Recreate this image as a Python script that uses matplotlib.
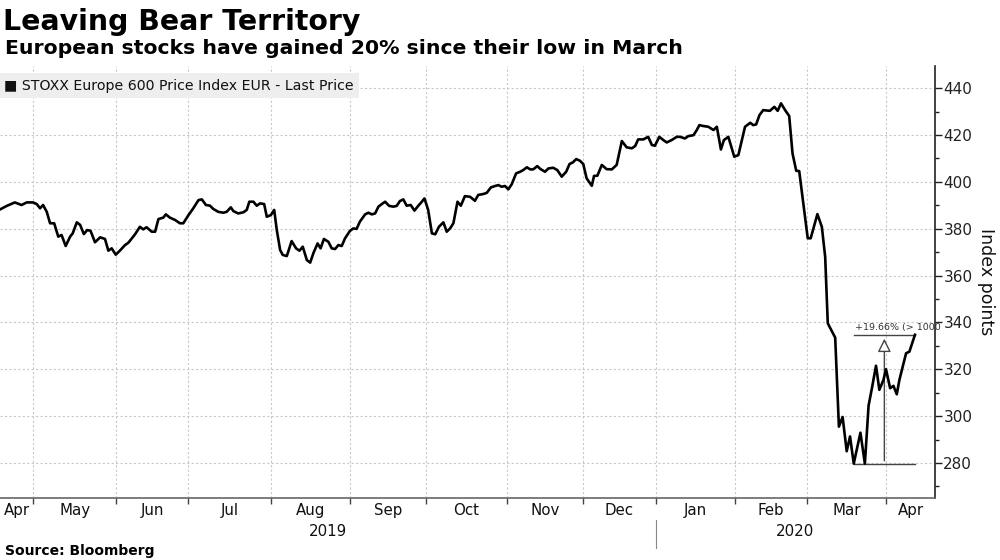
import matplotlib
matplotlib.use("Agg")
import matplotlib.pyplot as plt
import matplotlib.transforms as mtransforms
from matplotlib.ticker import MultipleLocator, FixedLocator, NullFormatter

# x is counted in trading days from the first point (mid April 2019)
day = [0.0, 1.8, 4.0, 5.8, 7.2, 8.9, 9.9, 10.8, 11.6, 12.6, 13.5, 14.6, 15.7, 16.6,
       17.7, 18.9, 19.6, 20.7, 21.6, 22.6, 23.5, 24.4, 25.6, 27.0, 28.3, 29.2, 30.1,
       31.2, 32.3, 33.7, 34.6, 36.4, 37.7, 38.6, 39.5, 40.9, 41.8, 42.7, 44.0, 44.7,
       45.8, 47.2, 48.5, 49.4, 50.8, 52.1, 53.5, 54.4, 55.5, 56.6, 57.5, 58.8, 60.2,
       61.1, 62.2, 62.9, 64.2, 65.6, 66.5, 67.2, 68.3, 69.2, 70.1, 71.2, 71.9, 73.0,
       73.9, 74.6, 75.5, 76.2, 77.3, 78.6, 79.8, 80.7, 81.6, 82.7, 83.6, 84.5, 85.6,
       86.4, 87.3, 88.5, 89.4, 90.3, 91.2, 92.1, 93.0, 94.3, 95.2, 96.1, 97.0, 98.4,
       99.3, 100.2, 101.1, 102.0, 102.9, 103.8, 104.9, 106.0, 106.9, 107.8, 108.7,
       109.6, 110.7, 111.7, 112.7, 113.7, 114.4, 115.4, 116.4, 117.3, 118.3, 119.5,
       120.4, 121.3, 122.2, 123.3, 124.2, 125.3, 126.7, 128.0, 128.9, 130.3, 131.2,
       132.3, 133.4, 134.3, 135.2, 136.1, 137.0, 137.9, 139.1, 140.2, 141.0, 142.0,
       142.9, 143.7, 144.8, 145.7, 146.9, 147.8, 149.1, 150.2, 151.4, 152.6, 153.5,
       154.4, 155.3, 156.3, 157.2, 158.1, 159.5, 160.1, 161.0, 162.2, 163.5, 164.9,
       166.2, 167.6, 168.9, 170.3, 171.2, 172.0, 173.4, 174.7, 175.7, 176.5, 177.7,
       178.8, 179.7, 181.0, 182.4, 183.3, 184.6, 185.5, 186.9, 187.8, 188.5, 189.6,
       190.9, 192.3, 193.2, 194.3, 195.1, 196.3, 197.9, 199.0, 200.8, 202.2, 203.0,
       203.8, 204.7, 205.7, 207.5, 208.7, 209.6, 210.5, 211.6, 212.7, 213.6, 214.6,
       215.4, 216.5, 217.7, 218.5, 220.3, 221.5, 222.4, 223.1, 225.1, 226.1, 227.1,
       228.2, 229.1, 230.1, 231.9, 233.1, 234.1, 235.0, 236.1, 237.0, 238.1, 238.8,
       239.9, 240.8, 241.7, 242.4, 243.3, 244.2, 245.1, 246.6]

price = [388.2, 389.7, 391.2, 390.1, 391.2, 391.2, 390.5, 388.7, 390.1, 387.2, 382.3,
         382.3, 376.6, 377.3, 372.6, 376.6, 378.0, 382.7, 381.6, 377.7, 379.4, 379.1,
         374.2, 376.3, 375.6, 370.6, 371.6, 368.9, 370.6, 373.0, 374.0, 377.6, 380.8,
         379.7, 380.6, 378.7, 378.7, 384.1, 384.7, 386.1, 384.7, 383.7, 382.3, 382.3,
         385.8, 388.7, 392.2, 392.5, 390.1, 389.8, 388.4, 387.2, 386.8, 387.2, 389.1,
         387.5, 386.5, 387.0, 388.0, 391.5, 391.5, 389.8, 390.8, 390.5, 385.1, 385.8,
         388.0, 379.4, 370.9, 368.8, 368.3, 374.7, 371.6, 370.6, 372.3, 366.6, 365.5,
         369.7, 373.7, 371.6, 375.6, 374.4, 371.6, 371.3, 373.0, 372.6, 375.9, 379.0,
         380.1, 379.9, 383.0, 386.1, 386.8, 386.1, 386.5, 389.4, 390.5, 391.5, 389.7,
         389.4, 389.7, 391.8, 392.5, 389.8, 390.1, 387.7, 389.7, 391.5, 392.9, 388.0,
         378.0, 377.6, 380.8, 382.7, 378.7, 380.1, 382.3, 391.5, 389.8, 393.9, 393.6,
         391.9, 394.4, 394.8, 395.3, 397.6, 398.2, 398.6, 397.9, 398.2, 396.8, 398.9,
         403.6, 404.3, 405.0, 406.2, 405.3, 405.3, 406.7, 405.4, 404.3, 405.7, 406.0,
         405.0, 402.2, 404.3, 407.6, 408.3, 409.7, 409.0, 407.6, 401.5, 398.3, 402.5,
         402.6, 407.2, 405.4, 405.3, 407.2, 417.4, 414.7, 414.3, 415.3, 418.1, 418.1,
         419.2, 415.7, 415.4, 419.2, 417.8, 416.8, 417.8, 419.2, 419.2, 418.5, 419.5,
         419.9, 422.1, 424.2, 423.8, 423.5, 422.1, 423.5, 413.8, 417.8, 419.2, 410.7,
         411.4, 423.5, 425.2, 424.2, 424.5, 428.5, 430.6, 430.3, 432.0, 430.3, 433.5,
         430.6, 428.1, 412.1, 404.7, 404.6, 390.8, 375.9, 375.9, 386.2, 380.8, 368.0,
         339.6, 333.5, 295.5, 299.6, 285.0, 291.3, 279.7, 292.9, 279.7, 304.5, 311.9,
         321.5, 311.2, 315.4, 320.0, 311.9, 312.9, 309.3, 315.4, 321.1, 326.8, 327.5,
         334.7]

month_labels = ["Apr", "May", "Jun", "Jul", "Aug", "Sep", "Oct", "Nov", "Dec",
                "Jan", "Feb", "Mar", "Apr"]
# trading-day position of the first day of each month, May 2019 .. Apr 2020
month_starts = [8.9, 31.3, 50.7, 73.0, 94.3, 114.8, 136.7, 157.1, 176.8, 198.1,
                217.5, 238.8]
years = ["2019", "2020"]

series_name = "STOXX Europe 600 Price Index EUR - Last Price"
xmax = 252.0
ymin, ymax = 265.1, 449.4

fig = plt.figure(figsize=(10, 5.6), dpi=100)
ax = fig.add_axes([0.0, 0.111, 0.935, 0.771])

ax.plot(day, price, color="black", lw=1.9, zorder=3)
ax.set_xlim(0, xmax)
ax.set_ylim(ymin, ymax)

# y axis on the right
ax.yaxis.tick_right()
ax.yaxis.set_label_position("right")
ax.yaxis.set_major_locator(MultipleLocator(20))
ax.yaxis.set_minor_locator(MultipleLocator(10))
ax.tick_params(axis="y", which="major", length=5, width=1, colors="#222222",
               labelsize=11, pad=1, direction="out")
ax.tick_params(axis="y", which="minor", length=3, width=1, colors="#222222")
ax.set_ylabel("Index points", rotation=270, fontsize=12.5, labelpad=16,
              color="#111111")

# x axis: ticks at month boundaries, labels centred inside each month
edges = [0.0] + month_starts + [xmax]
centers = [(a + b) / 2 for a, b in zip(edges[:-1], edges[1:])]
ax.xaxis.set_major_locator(FixedLocator(month_starts))
ax.xaxis.set_major_formatter(NullFormatter())
ax.xaxis.set_minor_locator(FixedLocator(centers))
ax.set_xticklabels(month_labels, minor=True)
ax.tick_params(axis="x", which="major", length=4, width=1, colors="#444444")
ax.tick_params(axis="x", which="minor", length=0, labelsize=10.8, pad=4,
               labelcolor="#111111")

ax.grid(True, which="major", color="#c8c8c8", ls=(0, (2, 2)), lw=0.8)
ax.set_axisbelow(True)

for side in ["top", "left"]:
    ax.spines[side].set_visible(False)
ax.spines["right"].set_color("#222222")
ax.spines["bottom"].set_color("#666666")
ax.spines["right"].set_linewidth(1.2)
ax.spines["bottom"].set_linewidth(1.2)

# year labels and divider under the month labels
trans = mtransforms.blended_transform_factory(ax.transData, ax.transAxes)
jan = month_starts[8]
ax.text(jan / 2, -0.079, years[0], transform=trans, ha="center", va="center",
        fontsize=10.8, color="#111111")
ax.text((jan + xmax) / 2, -0.079, years[1], transform=trans, ha="center",
        va="center", fontsize=10.8, color="#111111")
ax.plot([jan, jan], [-0.051, -0.116], transform=trans, color="#888888",
        lw=0.8, clip_on=False)

# low-to-last gain annotation
i_low = price.index(min(price))
x0, x1 = day[i_low], day[-1]
lo, hi = price[i_low], price[-1]
xm = (x0 + x1) / 2
gain = (hi / lo - 1) * 100
ax.plot([x0, x1], [lo, lo], color="#444444", lw=1, zorder=2)
ax.plot([x0, x1], [hi, hi], color="#444444", lw=1, zorder=2)
ax.annotate("", xy=(xm, hi - 0.5), xytext=(xm, lo),
            arrowprops=dict(arrowstyle="-|>,head_length=0.8,head_width=0.4",
                            edgecolor="#444444", facecolor="white", lw=1),
            zorder=2)
ax.text(x0 + 0.3, hi + 1.2, f"+{gain:.2f}% (> 1000", fontsize=6.8,
        color="#333333", ha="left", va="bottom")

# legend box
ax.text(0.004, 0.955, "\u25a0 " + series_name, transform=ax.transAxes,
        fontsize=10.2, color="#111111", ha="left", va="center",
        bbox=dict(boxstyle="square,pad=0.42", fc="#eeeeee", ec="none"))

fig.text(0.003, 0.985, "Leaving Bear Territory", fontsize=20.4, fontweight="bold",
         ha="left", va="top")
fig.text(0.005, 0.93, "European stocks have gained 20% since their low in March",
         fontsize=14.7, fontweight="bold", ha="left", va="top")
fig.text(0.005, 0.003, "Source: Bloomberg", fontsize=10, fontweight="bold",
         ha="left", va="bottom")

fig.savefig("out.png", dpi=100)
